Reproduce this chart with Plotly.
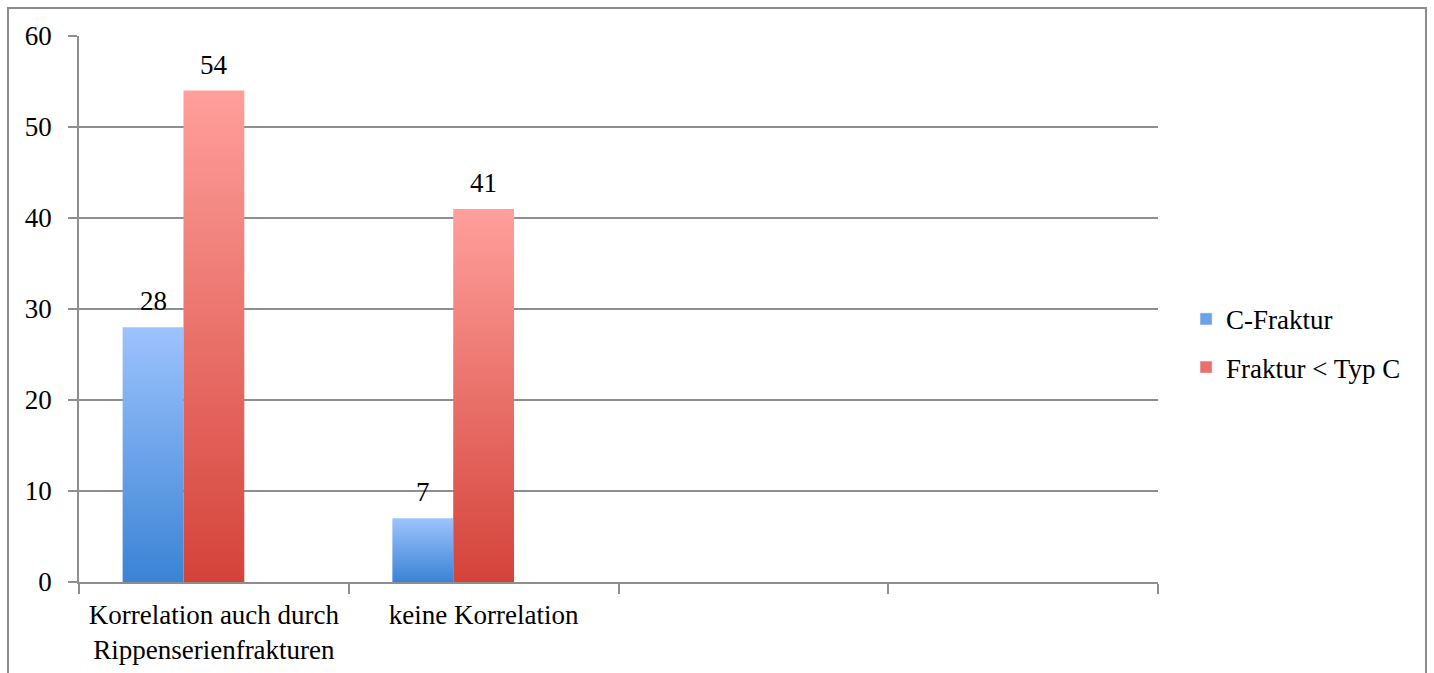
import plotly.graph_objects as go

categories = ["Korrelation auch durch<br>Rippenserienfrakturen", "keine Korrelation", "", ""]
series_names = ["C-Fraktur", "Fraktur < Typ C"]
c_fraktur = [28, 7]
fraktur_lt_c = [54, 41]
y_ticks = [0, 10, 20, 30, 40, 50, 60]

series_values = [c_fraktur, fraktur_lt_c]
grad_top = ["#9DC3FD", "#FF9F9B"]
grad_bot = ["#3A83D5", "#D4433A"]
legend_col = ["#6BA2EA", "#EA716A"]

FONT = "Liberation Serif"
FS = 27
GRID = "#8E8E8E"

bar_w = 0.2255
slot_offsets = [-bar_w, 0.0]  # third (empty) series slot to the right

fig = go.Figure()

for j, vals in enumerate(series_values):
    for i, v in enumerate(vals):
        xc = i + slot_offsets[j]
        x0, x1 = xc - bar_w / 2, xc + bar_w / 2
        fig.add_trace(go.Scatter(
            x=[x0, x1, x1, x0, x0], y=[0, 0, v, v, 0],
            mode="lines", line=dict(width=0), fill="toself",
            fillgradient=dict(type="vertical",
                              colorscale=[[0, grad_bot[j]], [1, grad_top[j]]]),
            showlegend=False, hoverinfo="skip"))
        fig.add_annotation(x=xc, y=v, text=str(v), showarrow=False,
                           yanchor="bottom", yshift=9,
                           font=dict(family=FONT, size=FS, color="black"))
    fig.add_trace(go.Bar(x=[None], y=[None], name=series_names[j],
                         marker=dict(color=legend_col[j]), legendgroup=series_names[j]))

n_cat = len(categories)
fig.update_xaxes(range=[-0.5, n_cat - 0.5], tickvals=list(range(n_cat)), ticktext=categories,
                 ticks="", showgrid=False, showline=True, linecolor=GRID, linewidth=1.5,
                 zeroline=False, ticklabelstandoff=8, automargin=False,
                 tickfont=dict(family=FONT, size=FS, color="black"),
                 minor=dict(tickvals=[k - 0.5 for k in range(n_cat + 1)], ticks="outside",
                            ticklen=10, tickcolor=GRID, tickwidth=1.5, showgrid=False))
fig.update_yaxes(range=[0, 60], tickvals=y_ticks, ticks="outside", ticklen=9, tickcolor=GRID,
                 tickwidth=1.5, showgrid=True, gridcolor=GRID, gridwidth=1.5,
                 showline=True, linecolor=GRID, linewidth=1.5, zeroline=False,
                 ticklabelstandoff=11, automargin=False,
                 tickfont=dict(family=FONT, size=FS, color="black"))

pw, ph = 1434 - 79 - 276, 673 - 36 - 91
fig.add_shape(type="rect", xref="paper", yref="paper",
              x0=(8 - 79) / pw, x1=(1426 - 79) / pw,
              y0=(582 - 700) / ph, y1=(582 - 8) / ph,
              line=dict(color="#8C8C8C", width=2), layer="below")

fig.update_layout(
    width=1434, height=673,
    margin=dict(l=79, r=276, t=36, b=91),
    plot_bgcolor="white", paper_bgcolor="white",
    showlegend=True,
    legend=dict(x=1.026, y=0.437, xanchor="left", yanchor="middle",
                font=dict(family=FONT, size=FS, color="black"),
                tracegroupgap=10, bgcolor="rgba(0,0,0,0)"),
)

fig.write_html("out.html")
